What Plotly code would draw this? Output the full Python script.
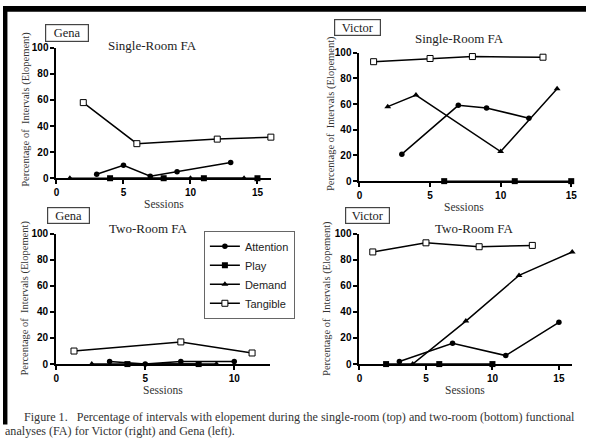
import plotly.graph_objects as go

W, H = 592, 445

# ---------------- data ----------------
# Gena, single-room FA
g1_att_x = [3, 5, 7, 9, 13];   g1_att_y = [3, 10, 1.5, 5, 12]
g1_play_x = [4, 8, 11, 15];    g1_play_y = [0, 0, 0, 0]
g1_dem_x = [1, 10, 14];        g1_dem_y = [0, 0, 0]
g1_tan_x = [2, 6, 12, 16];     g1_tan_y = [58, 26.5, 30, 31.5]

# Victor, single-room FA
v1_att_x = [3, 7, 9, 12];      v1_att_y = [21, 59, 57, 49]
v1_play_x = [6, 11, 15];       v1_play_y = [0, 0, 0]
v1_dem_x = [2, 4, 10, 14];     v1_dem_y = [58, 67, 23, 72]
v1_tan_x = [1, 5, 8, 13];      v1_tan_y = [93, 95.5, 97, 96.5]

# Gena, two-room FA
g2_att_x = [3, 5, 7, 10];      g2_att_y = [2, 0, 2, 2]
g2_play_x = [4, 8];            g2_play_y = [0, 0]
g2_dem_x = [2, 9];             g2_dem_y = [0, 0]
g2_tan_x = [1, 7, 11];         g2_tan_y = [10, 17, 8.5]

# Victor, two-room FA
v2_att_x = [3, 7, 11, 15];     v2_att_y = [2, 16, 6.5, 32]
v2_play_x = [2, 6, 10];        v2_play_y = [0, 0, 0]
v2_dem_x = [4, 8, 12, 16];     v2_dem_y = [0, 33, 68, 86]
v2_tan_x = [1, 5, 9, 13];      v2_tan_y = [86, 93, 90, 91]

series_names = ["Attention", "Play", "Demand", "Tangible"]
x_ticks = [0, 5, 10, 15]
y_ticks = [0, 20, 40, 60, 80, 100]

panels = [
    dict(name="Gena", title="Single-Room FA",
         data=[(g1_att_x, g1_att_y), (g1_play_x, g1_play_y), (g1_dem_x, g1_dem_y), (g1_tan_x, g1_tan_y)],
         xd=(54.3, 272), yd=(177, 43), xr=[0, 16],
         box=(65, 28, 44, 18), tpos=(152, 41), spos=(163, 203), ypos=(23, 106)),
    dict(name="Victor", title="Single-Room FA",
         data=[(v1_att_x, v1_att_y), (v1_play_x, v1_play_y), (v1_dem_x, v1_dem_y), (v1_tan_x, v1_tan_y)],
         xd=(362, 577), yd=(180, 48), xr=[0, 15],
         box=(359.5, 22.5, 47, 17), tpos=(464, 33), spos=(468, 207), ypos=(333, 110)),
    dict(name="Gena", title="Two-Room FA",
         data=[(g2_att_x, g2_att_y), (g2_play_x, g2_play_y), (g2_dem_x, g2_dem_y), (g2_tan_x, g2_tan_y)],
         xd=(54, 271), yd=(368, 234), xr=[0, 12],
         box=(66.5, 215.5, 43, 17), tpos=(148, 229), spos=(162, 395), ypos=(22, 300)),
    dict(name="Victor", title="Two-Room FA",
         data=[(v2_att_x, v2_att_y), (v2_play_x, v2_play_y), (v2_dem_x, v2_dem_y), (v2_tan_x, v2_tan_y)],
         xd=(362, 578), yd=(368, 234), xr=[0, 16],
         box=(370.5, 215.5, 45, 17), tpos=(479, 229), spos=(469, 395), ypos=(329, 300)),
]

def px(x):
    return x / W

def py(y):
    return 1 - y / H

marker_styles = [
    dict(symbol="circle", size=5.5, color="black", line=dict(color="black", width=0)),
    dict(symbol="square", size=6, color="black", line=dict(color="black", width=0)),
    dict(symbol="triangle-up", size=6, color="black", line=dict(color="black", width=0)),
    dict(symbol="square", size=6, color="white", line=dict(color="black", width=1)),
]

SERIF = "Liberation Serif"
SANS = "Liberation Sans"

fig = go.Figure()
annotations = []
shapes = []

for i, p in enumerate(panels):
    sfx = "" if i == 0 else str(i + 1)
    xa, ya = "x" + sfx, "y" + sfx
    for j, (xs, ys) in enumerate(p["data"]):
        fig.add_trace(go.Scatter(
            x=xs, y=ys, mode="lines+markers", name=series_names[j],
            line=dict(color="black", width=1.5),
            marker=marker_styles[j],
            cliponaxis=False,
            showlegend=(i == 2),
            legendrank=j,
            xaxis=xa, yaxis=ya,
        ))
    axis_common = dict(showgrid=False, zeroline=False, showline=True, linecolor="black",
                       linewidth=2, ticks="outside", ticklen=4, tickwidth=1.5, tickcolor="black",
                       tickfont=dict(family=SANS, size=10, color="black", weight="bold"))
    fig.update_layout(**{
        "xaxis" + sfx: dict(domain=[px(p["xd"][0]), px(p["xd"][1])], range=p["xr"],
                            tickvals=x_ticks, anchor=ya, **axis_common),
        "yaxis" + sfx: dict(domain=[py(p["yd"][0]), py(p["yd"][1])], range=[0, 100],
                            tickvals=y_ticks, anchor=xa, **axis_common),
    })
    bx, by, bw, bh = p["box"]
    annotations.append(dict(x=px(bx), y=py(by), xref="paper", yref="paper", text=p["name"],
                            showarrow=False, font=dict(family=SERIF, size=12.5, color="#222"),
                            width=bw - 4, height=bh - 4, bordercolor="#444", borderwidth=1.2,
                            borderpad=1, bgcolor="white", xanchor="center", yanchor="middle"))
    annotations.append(dict(x=px(p["tpos"][0]), y=py(p["tpos"][1]), xref="paper", yref="paper",
                            text=p["title"], showarrow=False,
                            font=dict(family=SERIF, size=13, color="#222"),
                            xanchor="center", yanchor="middle"))
    annotations.append(dict(x=px(p["spos"][0]), y=py(p["spos"][1]), xref="paper", yref="paper",
                            text="Sessions", showarrow=False,
                            font=dict(family=SERIF, size=11.5, color="#333"),
                            xanchor="center", yanchor="middle"))
    annotations.append(dict(x=px(p["ypos"][0]), y=py(p["ypos"][1]), xref="paper", yref="paper",
                            text="Percentage of  Intervals (Elopement)", showarrow=False, textangle=-90,
                            font=dict(family=SERIF, size=10.5, color="#333"),
                            xanchor="center", yanchor="middle"))

annotations.append(dict(x=px(19), y=py(422), xref="paper", yref="paper",
                        text="Figure 1.   Percentage of intervals with elopement during the single-room (top) and two-room (bottom) functional",
                        showarrow=False, font=dict(family=SERIF, size=12.1, color="#333"),
                        xanchor="left", yanchor="middle"))
annotations.append(dict(x=px(0), y=py(437), xref="paper", yref="paper",
                        text="analyses (FA) for Victor (right) and Gena (left).",
                        showarrow=False, font=dict(family=SERIF, size=12.1, color="#333"),
                        xanchor="left", yanchor="middle"))

# page border (top and left black edges of the scanned figure frame)
shapes.append(dict(type="rect", xref="paper", yref="paper", x0=0, x1=1, y0=py(6), y1=1,
                   fillcolor="black", line=dict(width=0)))
shapes.append(dict(type="rect", xref="paper", yref="paper", x0=0, x1=px(4.5), y0=py(430), y1=1,
                   fillcolor="black", line=dict(width=0)))

fig.update_layout(
    width=W, height=H,
    margin=dict(l=0, r=0, t=0, b=0),
    paper_bgcolor="white", plot_bgcolor="white",
    annotations=annotations, shapes=shapes,
    showlegend=True,
    legend=dict(x=px(204), y=py(231), xanchor="left", yanchor="top",
                bordercolor="#666", borderwidth=1, bgcolor="white",
                font=dict(family=SANS, size=11, color="#222"),
                itemwidth=30, tracegroupgap=0),
)

fig.write_html("out.html")
